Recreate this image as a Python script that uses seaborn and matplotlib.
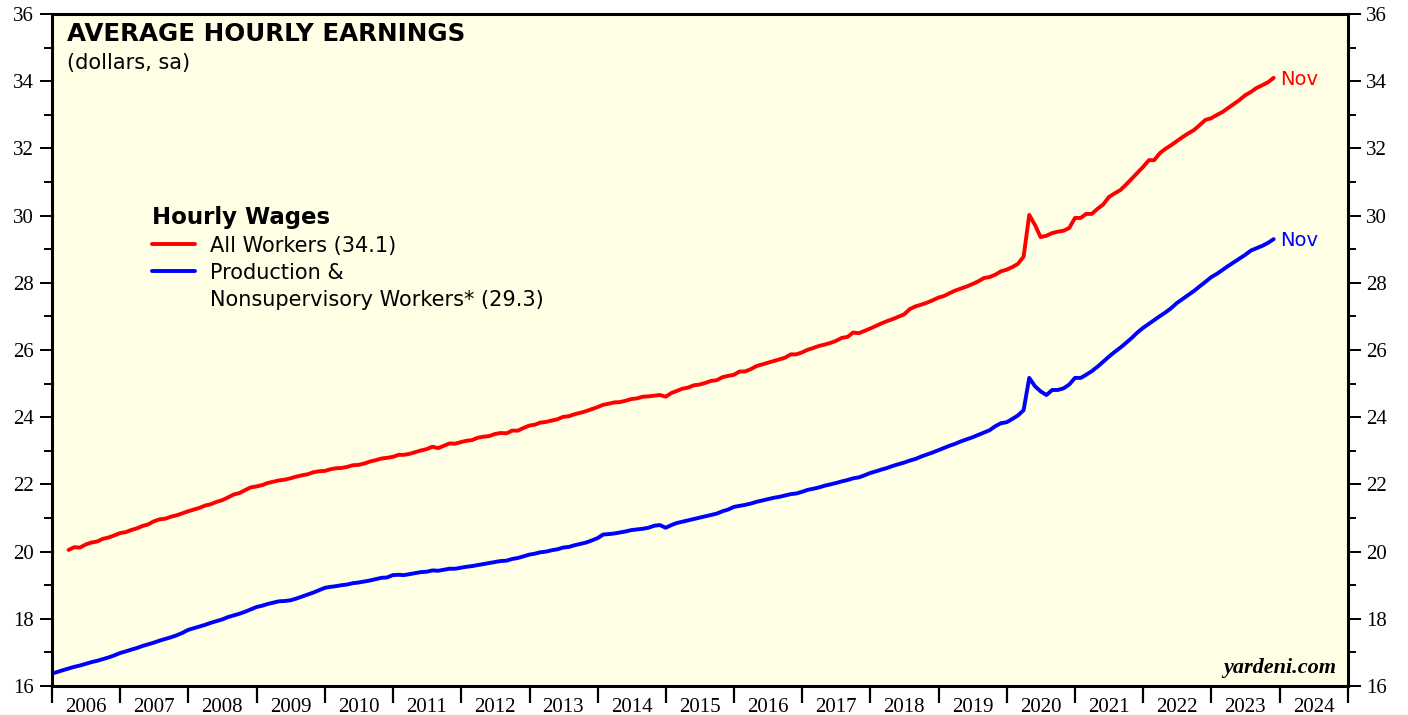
import pandas as pd
import matplotlib.pyplot as plt
import matplotlib.dates as mdates
import seaborn as sns
from matplotlib.lines import Line2D
from matplotlib.ticker import MultipleLocator, NullFormatter

# All workers, monthly (Mar 2006 - Nov 2023), dollars, sa
all_2006 = [20.05, 20.13, 20.12, 20.21, 20.27, 20.30, 20.38, 20.42, 20.48, 20.55]
all_2007 = [20.58, 20.64, 20.69, 20.76, 20.81, 20.90, 20.96, 20.98, 21.04, 21.08, 21.14, 21.20]
all_2008 = [21.25, 21.30, 21.37, 21.41, 21.48, 21.53, 21.61, 21.70, 21.74, 21.83, 21.91, 21.94]
all_2009 = [21.98, 22.04, 22.08, 22.12, 22.14, 22.18, 22.23, 22.27, 22.30, 22.36, 22.39, 22.40]
all_2010 = [22.45, 22.48, 22.49, 22.52, 22.57, 22.58, 22.62, 22.68, 22.72, 22.77, 22.79, 22.82]
all_2011 = [22.88, 22.88, 22.91, 22.96, 23.01, 23.05, 23.12, 23.08, 23.15, 23.22, 23.21, 23.26]
all_2012 = [23.30, 23.32, 23.39, 23.42, 23.44, 23.50, 23.53, 23.52, 23.60, 23.60, 23.68, 23.75]
all_2013 = [23.78, 23.84, 23.86, 23.90, 23.94, 24.01, 24.03, 24.09, 24.13, 24.18, 24.24, 24.30]
all_2014 = [24.37, 24.40, 24.44, 24.45, 24.49, 24.54, 24.56, 24.61, 24.62, 24.64, 24.66, 24.61]
all_2015 = [24.72, 24.78, 24.85, 24.88, 24.95, 24.97, 25.02, 25.08, 25.10, 25.19, 25.23, 25.26]
all_2016 = [25.36, 25.36, 25.43, 25.52, 25.57, 25.62, 25.67, 25.72, 25.77, 25.87, 25.87, 25.93]
all_2017 = [26.01, 26.06, 26.12, 26.16, 26.21, 26.27, 26.36, 26.39, 26.52, 26.50, 26.57, 26.64]
all_2018 = [26.72, 26.79, 26.86, 26.92, 26.99, 27.06, 27.22, 27.30, 27.35, 27.41, 27.48, 27.56]
all_2019 = [27.61, 27.69, 27.77, 27.83, 27.89, 27.96, 28.04, 28.14, 28.17, 28.24, 28.34, 28.39]
all_2020 = [28.47, 28.56, 28.78, 30.02, 29.72, 29.36, 29.40, 29.48, 29.52, 29.55, 29.63, 29.93]
all_2021 = [29.93, 30.05, 30.05, 30.20, 30.33, 30.55, 30.66, 30.76, 30.92, 31.10, 31.27, 31.45]
all_2022 = [31.65, 31.65, 31.86, 31.99, 32.10, 32.22, 32.34, 32.45, 32.55, 32.70, 32.85, 32.90]
all_2023 = [33.00, 33.08, 33.20, 33.32, 33.44, 33.58, 33.68, 33.80, 33.88, 33.97, 34.10]

# Production & nonsupervisory workers, monthly (Dec 2005 - Nov 2023)
prod_2005 = [16.37]
prod_2006 = [16.42, 16.47, 16.52, 16.57, 16.61, 16.66, 16.71, 16.75, 16.80, 16.85, 16.91, 16.98]
prod_2007 = [17.03, 17.08, 17.13, 17.19, 17.24, 17.29, 17.35, 17.40, 17.45, 17.51, 17.58, 17.67]
prod_2008 = [17.72, 17.77, 17.82, 17.88, 17.93, 17.98, 18.05, 18.10, 18.15, 18.21, 18.28, 18.35]
prod_2009 = [18.39, 18.44, 18.48, 18.52, 18.53, 18.55, 18.60, 18.66, 18.72, 18.78, 18.85, 18.92]
prod_2010 = [18.95, 18.97, 19.00, 19.02, 19.06, 19.08, 19.11, 19.14, 19.18, 19.22, 19.23, 19.30]
prod_2011 = [19.31, 19.30, 19.33, 19.36, 19.39, 19.40, 19.44, 19.43, 19.46, 19.49, 19.49, 19.52]
prod_2012 = [19.55, 19.57, 19.60, 19.63, 19.66, 19.69, 19.72, 19.73, 19.78, 19.81, 19.86, 19.91]
prod_2013 = [19.94, 19.98, 20.00, 20.04, 20.07, 20.12, 20.14, 20.19, 20.23, 20.27, 20.33, 20.40]
prod_2014 = [20.51, 20.52, 20.54, 20.57, 20.60, 20.64, 20.66, 20.68, 20.71, 20.77, 20.79, 20.71]
prod_2015 = [20.79, 20.85, 20.89, 20.93, 20.97, 21.01, 21.05, 21.09, 21.13, 21.20, 21.25, 21.33]
prod_2016 = [21.36, 21.39, 21.43, 21.48, 21.52, 21.56, 21.60, 21.63, 21.67, 21.71, 21.73, 21.78]
prod_2017 = [21.84, 21.87, 21.91, 21.96, 22.00, 22.04, 22.09, 22.13, 22.18, 22.21, 22.27, 22.34]
prod_2018 = [22.39, 22.44, 22.49, 22.55, 22.60, 22.65, 22.71, 22.76, 22.83, 22.89, 22.95, 23.02]
prod_2019 = [23.09, 23.15, 23.21, 23.28, 23.34, 23.40, 23.47, 23.54, 23.61, 23.73, 23.82, 23.85]
prod_2020 = [23.95, 24.05, 24.21, 25.17, 24.92, 24.77, 24.66, 24.81, 24.81, 24.86, 24.97, 25.17]
prod_2021 = [25.17, 25.26, 25.37, 25.50, 25.65, 25.80, 25.94, 26.07, 26.21, 26.36, 26.52, 26.66]
prod_2022 = [26.78, 26.89, 27.01, 27.12, 27.25, 27.40, 27.52, 27.64, 27.76, 27.90, 28.03, 28.17]
prod_2023 = [28.27, 28.38, 28.50, 28.61, 28.72, 28.83, 28.96, 29.03, 29.10, 29.19, 29.30]

all_workers = (all_2006 + all_2007 + all_2008 + all_2009 + all_2010 + all_2011
               + all_2012 + all_2013 + all_2014 + all_2015 + all_2016 + all_2017
               + all_2018 + all_2019 + all_2020 + all_2021 + all_2022 + all_2023)
production = (prod_2005 + prod_2006 + prod_2007 + prod_2008 + prod_2009 + prod_2010
              + prod_2011 + prod_2012 + prod_2013 + prod_2014 + prod_2015 + prod_2016
              + prod_2017 + prod_2018 + prod_2019 + prod_2020 + prod_2021 + prod_2022
              + prod_2023)

series_labels = ['All Workers (34.1)', 'Production &\nNonsupervisory Workers* (29.3)']
series_colors = ['red', 'blue']
last_month = 'Nov'

df_all = pd.DataFrame({
    'date': pd.date_range('2006-03-31', periods=len(all_workers), freq='ME'),
    'value': all_workers, 'series': 'all'})
df_prod = pd.DataFrame({
    'date': pd.date_range('2005-12-31', periods=len(production), freq='ME'),
    'value': production, 'series': 'prod'})
df = pd.concat([df_all, df_prod], ignore_index=True)

sns.set_style('ticks')
plt.rcParams['font.family'] = ['DejaVu Sans']
for key in ['text.color', 'axes.labelcolor', 'xtick.color', 'ytick.color']:
    plt.rcParams[key] = 'black'

fig = plt.figure(figsize=(14.08, 7.15), dpi=100)
ax = fig.add_axes([52 / 1408, 29 / 715, 1296 / 1408, 672 / 715])
ax.set_facecolor('#FFFFE5')

sns.lineplot(data=df, x='date', y='value', hue='series',
             palette={'all': series_colors[0], 'prod': series_colors[1]},
             linewidth=2.8, legend=False, ax=ax)

ax.set_xlim(pd.Timestamp('2006-01-01'), pd.Timestamp('2025-01-01'))
ax.set_ylim(16, 36)
ax.set_xlabel('')
ax.set_ylabel('')

for side in ['left', 'right', 'top', 'bottom']:
    ax.spines[side].set_visible(True)
    ax.spines[side].set_linewidth(2.2)
    ax.spines[side].set_color('black')

# x axis: ticks at year boundaries, year labels centred in between
ax.xaxis.set_major_locator(mdates.YearLocator())
ax.xaxis.set_major_formatter(NullFormatter())
ax.xaxis.set_minor_locator(mdates.YearLocator(month=7, day=1))
ax.xaxis.set_minor_formatter(mdates.DateFormatter('%Y'))
ax.tick_params(axis='x', which='major', direction='out', length=12.5, width=1.6,
               bottom=True, top=False)
ax.tick_params(axis='x', which='minor', length=0, pad=9, labelsize=15,
               bottom=True, top=False)

ax.yaxis.set_major_locator(MultipleLocator(2))
ax.yaxis.set_minor_locator(MultipleLocator(1))
ax.tick_params(axis='y', which='major', direction='out', length=9, width=1.4,
               left=True, right=True, labelleft=True, labelright=True,
               labelsize=15, pad=4)
ax.tick_params(axis='y', which='minor', direction='out', length=5.5, width=1.4,
               left=True, right=True)
for lbl in ax.get_xticklabels(minor=True) + ax.get_yticklabels():
    lbl.set_fontfamily(['Liberation Serif', 'DejaVu Serif'])

# titles
ax.text(0.0116, 0.970, 'AVERAGE HOURLY EARNINGS', transform=ax.transAxes,
        fontsize=17.7, fontweight='bold', va='center', ha='left')
ax.text(0.0116, 0.927, '(dollars, sa)', transform=ax.transAxes,
        fontsize=15, va='center', ha='left')

# end-of-series labels
for frame, color in [(df_all, series_colors[0]), (df_prod, series_colors[1])]:
    ax.annotate(last_month, xy=(frame['date'].iloc[-1], frame['value'].iloc[-1]),
                xytext=(5, -1), textcoords='offset points', color=color,
                fontsize=14, va='center', ha='left')

# legend: the second label wraps, handle sits on its first line
legend_labels, legend_handles = [], []
for label, color in zip(series_labels, series_colors):
    for i, part in enumerate(label.split('\n')):
        legend_labels.append(part)
        legend_handles.append(Line2D([], [], color=color if i == 0 else 'none',
                                     linewidth=2.8))
ax.legend(legend_handles, legend_labels, title='Hourly Wages', loc='upper left',
          bbox_to_anchor=(0.0772, 0.715), frameon=False, fontsize=15,
          title_fontproperties={'weight': 'bold', 'size': 16.5},
          alignment='left', handlelength=2.05, handletextpad=0.75,
          labelspacing=0.34, borderpad=0, borderaxespad=0)

ax.text(0.991, 0.012, 'yardeni.com', transform=ax.transAxes, fontsize=16,
        fontweight='bold', fontstyle='italic', ha='right', va='bottom',
        fontfamily=['Liberation Serif', 'DejaVu Serif'])

fig.savefig('out.png', dpi=100)
